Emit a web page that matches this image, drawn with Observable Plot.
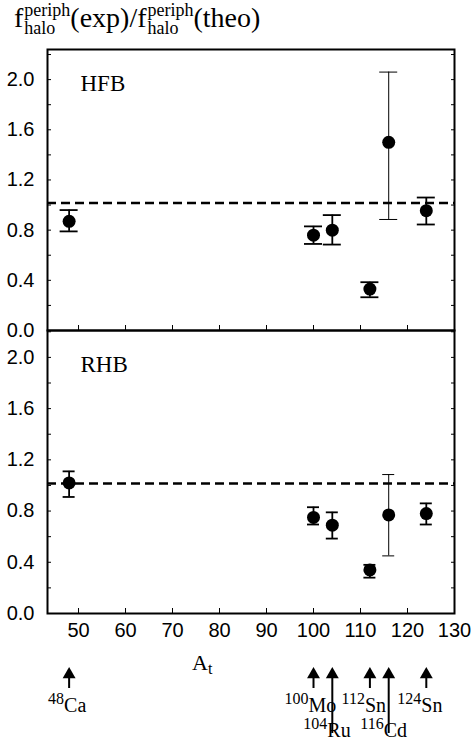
<!DOCTYPE html>
<html>
<head>
<meta charset="utf-8">
<script src="https://cdn.jsdelivr.net/npm/d3@7"></script>
<script src="https://cdn.jsdelivr.net/npm/@observablehq/plot@0.6"></script>
<style>
  html, body { margin: 0; padding: 0; background: white; }
  #wrap { position: relative; width: 472px; height: 751px; overflow: hidden; }
  .abs { position: absolute; }
  .serif { font-family: "Liberation Serif", "Times New Roman", serif; color: black; }
  #title { left: 14px; top: 1px; font-size: 28px; line-height: 32px; white-space: nowrap; }
  .ss { display: inline-block; font-size: 18px; line-height: 18px; vertical-align: -7px; margin-left: 1px; }
  #xlabel { left: 192px; top: 650px; font-size: 22px; line-height: 26px; }
  #xlabel sub { font-size: 16px; vertical-align: -4px; }
  svg { overflow: visible; }
</style>
</head>
<body>
<div id="wrap">
  <div id="title" class="abs serif">f<span class="ss">periph<br>halo</span>(exp)/f<span class="ss">periph<br>halo</span>(theo)</div>
  <div id="xlabel" class="abs serif">A<sub>t</sub></div>
</div>
<script>
// ---- data ----
const targetA = [48, 100, 104, 112, 116, 124];

const hfbValue = [0.87, 0.76, 0.80, 0.33, 1.50, 0.955];
const hfbLow   = [0.79, 0.69, 0.685, 0.265, 0.885, 0.845];
const hfbHigh  = [0.96, 0.83, 0.92, 0.385, 2.06, 1.06];

const rhbValue = [1.02, 0.75, 0.69, 0.34, 0.77, 0.78];
const rhbLow   = [0.91, 0.695, 0.585, 0.28, 0.45, 0.695];
const rhbHigh  = [1.11, 0.83, 0.79, 0.38, 1.085, 0.86];

const yTickValues = [0, 0.4, 0.8, 1.2, 1.6, 2.0];
const yMinorTicks = [0, 0.2, 0.4, 0.6, 0.8, 1.0, 1.2, 1.4, 1.6, 1.8, 2.0, 2.2];
const xTickValues = [50, 60, 70, 80, 90, 100, 110, 120, 130];

const nuclideA      = [48, 100, 104, 112, 116, 124];
const nuclideSymbol = ["Ca", "Mo", "Ru", "Sn", "Cd", "Sn"];
const nuclideMass   = ["48", "100", "104", "112", "116", "124"];
const nuclideRow    = [1, 1, 2, 1, 2, 1];

const referenceLine = [1.0];

(function () {
  const serif = "Liberation Serif, Times New Roman, serif";
  const sans = "Liberation Sans, Arial, sans-serif";
  const xDomain = [43.4, 130];

  function rows(values, lows, highs) {
    return targetA.map((A, i) => ({A, v: values[i], lo: lows[i], hi: highs[i]}));
  }
  const barWidth = d => d.A === 116 ? 1 : 1.8;

  function panel(name, data, {yMax, marginTop, marginBottom, frameHeight, capHalf, showX}) {
    return Plot.plot({
      width: 472,
      height: marginTop + frameHeight + marginBottom,
      marginLeft: 47, marginRight: 18, marginTop, marginBottom,
      style: {background: "transparent", overflow: "visible", fontFamily: sans, fontSize: "20px", color: "black"},
      x: {domain: xDomain, label: null},
      y: {domain: [0, yMax], label: null},
      marks: [
        Plot.axisY(yTickValues, {anchor: "left", tickSize: 0, tickPadding: 13, tickFormat: d3.format(".1f"), fontSize: 20, label: null}),
        Plot.axisY(yMinorTicks.filter(t => t <= yMax), {anchor: "left", tickSize: -4, fill: "none", label: null}),
        Plot.axisY(yMinorTicks.filter(t => t <= yMax), {anchor: "right", tickSize: -4, fill: "none", label: null}),
        Plot.axisX(xTickValues, {anchor: "bottom", tickSize: -5, fill: "none", label: null}),
        showX ? Plot.axisX(xTickValues, {anchor: "bottom", tickSize: 0, tickPadding: 9, fontSize: 20, label: null}) : null,
        Plot.ruleY(referenceLine, {strokeDasharray: "9,5", strokeWidth: 2.6, dy: -2}),
        Plot.ruleX(data, {x: "A", y1: "lo", y2: "hi", strokeWidth: barWidth}),
        Plot.ruleY(data, {y: "hi", x1: "A", x2: "A", insetLeft: -capHalf, insetRight: -capHalf, strokeWidth: barWidth}),
        Plot.ruleY(data, {y: "lo", x1: "A", x2: "A", insetLeft: -capHalf, insetRight: -capHalf, strokeWidth: barWidth}),
        Plot.dot(data, {x: "A", y: "v", r: 6.5, fill: "black", stroke: null}),
        Plot.text([name], {frameAnchor: "top-left", dx: 33, dy: 41, lineAnchor: "bottom", textAnchor: "start", fontFamily: serif, fontSize: 23, fill: "black"}),
        Plot.frame({strokeWidth: 2})
      ]
    });
  }

  const wrap = document.getElementById("wrap");

  const upper = panel("HFB", rows(hfbValue, hfbLow, hfbHigh), {yMax: 2.24, marginTop: 7, marginBottom: 0, frameHeight: 281, capHalf: 9, showX: false});
  upper.classList.add("abs"); upper.style.left = "0px"; upper.style.top = "42px";
  wrap.appendChild(upper);

  const lower = panel("RHB", rows(rhbValue, rhbLow, rhbHigh), {yMax: 2.21, marginTop: 0, marginBottom: 30, frameHeight: 283, capHalf: 6, showX: true});
  lower.classList.add("abs"); lower.style.left = "0px"; lower.style.top = "330px";
  wrap.appendChild(lower);

  // ---- target arrows strip ----
  const nuclides = nuclideA.map((A, i) => ({A, sym: nuclideSymbol[i], mass: nuclideMass[i], row: nuclideRow[i]}));
  const tailLevel = d => d.row === 1 ? 1.05 : 3.3;
  const labelLevel = d => d.row === 1 ? 2.2 : 3.45;

  const strip = Plot.plot({
    width: 472, height: 108,
    marginLeft: 47, marginRight: 18, marginTop: 0, marginBottom: 0,
    style: {background: "transparent", overflow: "visible", fontFamily: serif, color: "black"},
    x: {domain: xDomain, axis: null},
    y: {domain: [0, 4], range: [24, 104], axis: null},
    marks: [
      Plot.ruleX(nuclides, {x: "A", y1: tailLevel, y2: 0.3, strokeWidth: 2}),
      Plot.dot(nuclides, {x: "A", y: 0, symbol: "triangle", r: 4.8, fill: "black", stroke: null, dy: 7}),
      Plot.text(nuclides, {x: "A", y: labelLevel, text: "sym", textAnchor: "start", lineAnchor: "bottom", dx: -5, fontSize: 20, fill: "black"}),
      Plot.text(nuclides, {x: "A", y: labelLevel, text: "mass", textAnchor: "end", lineAnchor: "bottom", dx: -5, dy: -8, fontSize: 16, fill: "black"})
    ]
  });
  strip.classList.add("abs"); strip.style.left = "0px"; strip.style.top = "643px";
  wrap.appendChild(strip);
})();
</script>
</body>
</html>
